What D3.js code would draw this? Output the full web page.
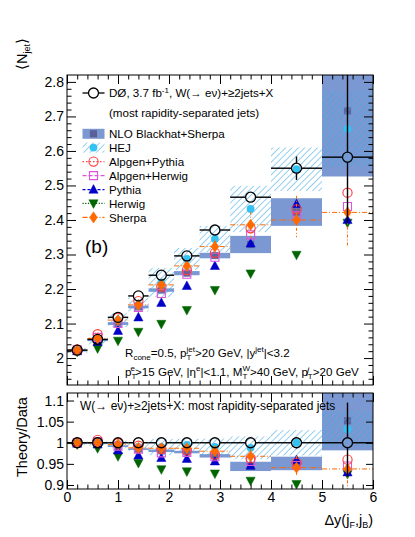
<!DOCTYPE html>
<html><head><meta charset="utf-8">
<script src="https://cdn.jsdelivr.net/npm/d3@7"></script>
<style>
body{margin:0;background:#fff}
text{font-family:"Liberation Sans",Arial,Helvetica,sans-serif;fill:#000}
</style></head>
<body><svg id="c" width="415" height="537"></svg>
<script>
// ---------------- DATA ----------------
const binLo      = [0, 0.4, 0.8, 1.2, 1.6, 2.1, 2.6, 3.2, 4.0, 5.0];
const binHi      = [0.4, 0.8, 1.2, 1.6, 2.1, 2.6, 3.2, 4.0, 5.0, 6.0];
const binCenters = [0.2, 0.6, 1.0, 1.4, 1.85, 2.35, 2.9, 3.6, 4.5, 5.5];

// main panel <N_jet>
const dataVal   = [2.023, 2.054, 2.118, 2.180, 2.240, 2.296, 2.371, 2.466, 2.550, 2.582];
const dataErrUp = [0.006, 0.006, 0.007, 0.008, 0.009, 0.010, 0.011, 0.013, 0.034, 0.250];
const dataErrDn = [0.006, 0.006, 0.007, 0.008, 0.009, 0.010, 0.011, 0.013, 0.034, 0.190];
const nloVal    = [2.022, 2.052, 2.100, 2.148, 2.197, 2.246, 2.297, 2.329, 2.423, 2.716];
const nloErr    = [0.003, 0.003, 0.004, 0.004, 0.005, 0.006, 0.008, 0.025, 0.040, 0.190];
const hejVal    = [2.022, 2.050, 2.110, 2.155, 2.219, 2.287, 2.345, 2.432, 2.547, 2.664];
const hejErr    = [0.008, 0.010, 0.020, 0.020, 0.042, 0.032, 0.038, 0.067, 0.063, 0.110];
const alpPyVal  = [2.025, 2.069, 2.117, 2.165, 2.207, 2.255, 2.305, 2.376, 2.431, 2.479];
const alpHwVal  = [2.024, 2.060, 2.100, 2.147, 2.187, 2.243, 2.292, 2.357, 2.412, 2.439];
const pythiaVal = [2.020, 2.047, 2.079, 2.118, 2.160, 2.209, 2.267, 2.332, 2.446, 2.400];
const herwigVal = [2.018, 2.028, 2.050, 2.076, 2.099, 2.139, 2.197, 2.245, 2.299, 2.392];
const sherpaVal = [2.023, 2.057, 2.110, 2.154, 2.212, 2.267, 2.323, 2.386, 2.400, 2.422];
const sherpaErrUp = [0.004, 0.005, 0.006, 0.010, 0.012, 0.015, 0.020, 0.038, 0.070, 0.075];
const sherpaErrDn = [0.004, 0.005, 0.006, 0.010, 0.012, 0.015, 0.020, 0.039, 0.050, 0.100];

// ratio panel Theory/Data
const rDataErrUp = [0.003, 0.003, 0.003, 0.004, 0.004, 0.004, 0.005, 0.005, 0.013, 0.095];
const rDataErrDn = [0.003, 0.003, 0.003, 0.004, 0.004, 0.004, 0.005, 0.005, 0.013, 0.080];
const rNlo     = [0.999, 0.999, 0.992, 0.985, 0.981, 0.978, 0.969, 0.944, 0.951, 1.052];
const rNloErr  = [0.002, 0.002, 0.002, 0.002, 0.003, 0.003, 0.004, 0.011, 0.016, 0.070];
const rHej     = [0.999, 0.998, 0.996, 0.990, 0.990, 0.995, 0.990, 0.988, 1.000, 1.032];
const rHejErr  = [0.004, 0.005, 0.009, 0.009, 0.019, 0.014, 0.020, 0.027, 0.030, 0.043];
const rAlpPy   = [1.001, 1.007, 0.999, 0.993, 0.985, 0.982, 0.972, 0.963, 0.953, 0.960];
const rAlpHw   = [1.000, 1.003, 0.992, 0.985, 0.976, 0.977, 0.967, 0.956, 0.946, 0.945];
const rPythia  = [0.998, 0.996, 0.982, 0.970, 0.964, 0.962, 0.956, 0.946, 0.959, 0.930];
const rHerwig  = [0.996, 0.987, 0.968, 0.952, 0.937, 0.932, 0.927, 0.910, 0.902, 0.926];
const rSherpa  = [1.000, 1.000, 0.996, 0.988, 0.987, 0.987, 0.980, 0.968, 0.941, 0.938];
const rSherpaErrUp = [0.002, 0.002, 0.003, 0.004, 0.005, 0.007, 0.008, 0.018, 0.028, 0.030];
const rSherpaErrDn = [0.002, 0.002, 0.003, 0.004, 0.005, 0.007, 0.008, 0.018, 0.020, 0.050];

// tick labels
const xTicks      = [0, 1, 2, 3, 4, 5, 6];
const mainYTicks  = [2.0, 2.1, 2.2, 2.3, 2.4, 2.5, 2.6, 2.7, 2.8];
const ratioYTicks = [0.9, 0.95, 1.0, 1.05, 1.1];

// ---------------- LAYOUT ----------------
const svg = d3.select("#c");
const X0 = 67, X1 = 373;
const M = {top: 75, bottom: 385};
const R = {top: 393, bottom: 489};
const x = d3.scaleLinear().domain([0, 6]).range([X0, X1]);
const yM = d3.scaleLinear().domain([1.922, 2.82]).range([M.bottom, M.top]);
const yR = d3.scaleLinear().domain([0.8905, 1.1178]).range([R.bottom, R.top]);

const C = {
  nloBand: "#7b98d2", nloMark: "#5b5e97", hej: "#3fa9e0", hejMark: "#33c3f3",
  ap: "#ff3b3b", ah: "#dd55dd", py: "#0000c8", hw: "#006400", sh: "#ff6a00"
};

const defs = svg.append("defs");
const pat = defs.append("pattern").attr("id","hatch").attr("patternUnits","userSpaceOnUse")
  .attr("width",4.5).attr("height",4.5).attr("patternTransform","rotate(45)");
pat.append("line").attr("x1",0).attr("y1",0).attr("x2",0).attr("y2",4.5)
  .attr("stroke",C.hej).attr("stroke-width",1.1);
defs.append("clipPath").attr("id","clipM").append("rect")
  .attr("x",X0).attr("y",M.top).attr("width",X1-X0).attr("height",M.bottom-M.top);
defs.append("clipPath").attr("id","clipR").append("rect")
  .attr("x",X0).attr("y",R.top).attr("width",X1-X0).attr("height",R.bottom-R.top);

// marker shapes
const shapes = {
  tri:  "M0,-5 L4.6,3.6 L-4.6,3.6 Z",
  tdn:  "M0,5 L4.6,-3.6 L-4.6,-3.6 Z",
  dia:  "M0,-5.6 L3.9,0 L0,5.6 L-3.9,0 Z",
  sq:   "M-4,-4 L4,-4 L4,4 L-4,4 Z",
  nsq:  "M-3.6,-3.6 L3.6,-3.6 L3.6,3.6 L-3.6,3.6 Z"
};
function marker(g, type, cx, cy, color, open) {
  if (type === "circ") {
    return g.append("circle").attr("cx",cx).attr("cy",cy).attr("r",open?4.6:3.9)
      .attr("fill",open?"none":color).attr("stroke",color).attr("stroke-width",open?1.1:0.5);
  }
  return g.append("path").attr("d",shapes[type]).attr("transform",`translate(${cx},${cy})`)
    .attr("fill",open?"none":color).attr("stroke",color).attr("stroke-width",open?1.1:0.5);
}

function drawPanel(g, y, vals) {
  const {data, dUp, dDn, nlo, nloE, hej, hejE, ap, ah, py, hw, sh, shUp, shDn} = vals;
  g.selectAll(".nlo").data(nlo).enter().append("rect")
    .attr("x",(d,i)=>x(binLo[i])).attr("width",(d,i)=>x(binHi[i])-x(binLo[i]))
    .attr("y",(d,i)=>y(d+nloE[i])).attr("height",(d,i)=>Math.max(1.5,y(d-nloE[i])-y(d+nloE[i])))
    .attr("fill",C.nloBand);
  nlo.forEach((d,i)=>marker(g,"nsq",x(binCenters[i]),y(d),C.nloMark,false).attr("stroke","none").attr("opacity",0.9));
  g.selectAll(".hej").data(hej).enter().append("rect")
    .attr("x",(d,i)=>x(binLo[i])).attr("width",(d,i)=>x(binHi[i])-x(binLo[i]))
    .attr("y",(d,i)=>y(d+hejE[i])).attr("height",(d,i)=>y(d-hejE[i])-y(d+hejE[i]))
    .attr("fill","url(#hatch)");
  hej.forEach((d,i)=>marker(g,"circ",x(binCenters[i]),y(d),C.hejMark,false).attr("stroke","none"));
  hw.forEach((d,i)=>marker(g,"tdn",x(binCenters[i]),y(d),C.hw,false));
  py.forEach((d,i)=>marker(g,"tri",x(binCenters[i]),y(d),C.py,false));
  ah.forEach((d,i)=>marker(g,"sq",x(binCenters[i]),y(d),C.ah,true));
  ap.forEach((d,i)=>marker(g,"circ",x(binCenters[i]),y(d),C.ap,true));
  sh.forEach((d,i)=>{
    g.append("line").attr("x1",x(binLo[i])).attr("x2",x(binHi[i])).attr("y1",y(d)).attr("y2",y(d))
      .attr("stroke",C.sh).attr("stroke-width",1).attr("stroke-dasharray","5,2,1,2");
    g.append("line").attr("x1",x(binCenters[i])).attr("x2",x(binCenters[i]))
      .attr("y1",y(d+shUp[i])).attr("y2",y(d-shDn[i]))
      .attr("stroke",C.sh).attr("stroke-width",1).attr("stroke-dasharray","3,2,1,2");
    marker(g,"dia",x(binCenters[i]),y(d),C.sh,false);
  });
  const r = 5;
  data.forEach((d,i)=>{
    const cx = x(binCenters[i]), cy = y(d);
    const segs = [
      [x(binLo[i]), cy, cx-r, cy], [cx+r, cy, x(binHi[i]), cy],
      [cx, y(d+dUp[i]), cx, cy-r], [cx, cy+r, cx, y(d-dDn[i])]
    ];
    segs.forEach(s=>{
      if ((s[0]===s[2] && s[1]<s[3]) || (s[1]===s[3] && s[0]<s[2]))
        g.append("line").attr("x1",s[0]).attr("y1",s[1]).attr("x2",s[2]).attr("y2",s[3])
          .attr("stroke","#000").attr("stroke-width",1.4);
    });
    g.append("circle").attr("cx",cx).attr("cy",cy).attr("r",r)
      .attr("fill","none").attr("stroke","#000").attr("stroke-width",1.3);
  });
}

const gM = svg.append("g").attr("clip-path","url(#clipM)");
drawPanel(gM, yM, {data:dataVal, dUp:dataErrUp, dDn:dataErrDn, nlo:nloVal, nloE:nloErr,
  hej:hejVal, hejE:hejErr, ap:alpPyVal, ah:alpHwVal, py:pythiaVal, hw:herwigVal,
  sh:sherpaVal, shUp:sherpaErrUp, shDn:sherpaErrDn});

const gR = svg.append("g").attr("clip-path","url(#clipR)");
const ones = dataVal.map(()=>1.0);
drawPanel(gR, yR, {data:ones, dUp:rDataErrUp, dDn:rDataErrDn, nlo:rNlo, nloE:rNloErr,
  hej:rHej, hejE:rHejErr, ap:rAlpPy, ah:rAlpHw, py:rPythia, hw:rHerwig,
  sh:rSherpa, shUp:rSherpaErrUp, shDn:rSherpaErrDn});

// ---------------- AXES ----------------
function fmt(d){ return String(+d.toFixed(2)); }
const xMinor = d3.range(0.2, 6, 0.2).filter(v=>Math.abs(v-Math.round(v))>0.01);
function frame(top, bottom, y, yMaj, yMin, showX, majY, minY) {
  const g = svg.append("g");
  const ax = (a, tr) => g.append("g").attr("transform",tr).call(a).call(s=>s.select(".domain").remove())
    .call(s=>s.selectAll("line").attr("stroke","#000"))
    .call(s=>s.selectAll("text").style("font-size","14px").style("font-family","Liberation Sans, Arial, sans-serif"));
  ax(d3.axisBottom(x).tickValues(xTicks).tickSize(-9).tickPadding(3).tickFormat(showX?fmt:()=>""), `translate(0,${bottom})`);
  ax(d3.axisBottom(x).tickValues(xMinor).tickSize(-4.5).tickFormat(()=>""), `translate(0,${bottom})`);
  ax(d3.axisTop(x).tickValues(xTicks).tickSize(-9).tickFormat(()=>""), `translate(0,${top})`);
  ax(d3.axisTop(x).tickValues(xMinor).tickSize(-4.5).tickFormat(()=>""), `translate(0,${top})`);
  ax(d3.axisLeft(y).tickValues(yMaj).tickSize(-majY).tickPadding(3).tickFormat(fmt), `translate(${X0},0)`);
  ax(d3.axisRight(y).tickValues(yMaj).tickSize(-majY).tickFormat(()=>""), `translate(${X1},0)`);
  if (yMin.length) {
    ax(d3.axisLeft(y).tickValues(yMin).tickSize(-minY).tickFormat(()=>""), `translate(${X0},0)`);
    ax(d3.axisRight(y).tickValues(yMin).tickSize(-minY).tickFormat(()=>""), `translate(${X1},0)`);
  }
  g.append("rect").attr("x",X0).attr("y",top).attr("width",X1-X0).attr("height",bottom-top)
    .attr("fill","none").attr("stroke","#000").attr("stroke-width",1);
  return g;
}
const mainMinor = d3.range(1.94, 2.82, 0.02).filter(v=>Math.abs(v*10-Math.round(v*10))>0.01);
frame(M.top, M.bottom, yM, mainYTicks, mainMinor, false, 9, 4.5);
frame(R.top, R.bottom, yR, ratioYTicks, [], true, 7, 0);

// ---------------- TEXT ----------------
const T = (xx, yy, size) => svg.append("text").attr("x",xx).attr("y",yy).style("font-size",size+"px");

// legend
const LX0 = 82.5, LX1 = 104.5, LTX = 109;
const ly = [93, 112.7, 133.8, 147.6, 161.6, 175.6, 189.6, 203.4, 217.4];
svg.append("line").attr("x1",LX0).attr("x2",LX1).attr("y1",ly[0]).attr("y2",ly[0]).attr("stroke","#000").attr("stroke-width",1.3);
svg.append("circle").attr("cx",(LX0+LX1)/2).attr("cy",ly[0]).attr("r",5).attr("fill","#fff").attr("stroke","#000").attr("stroke-width",1.3);
let t = T(LTX, ly[0]+4.2, 11.6); t.append("tspan").text("DØ, 3.7 fb");
t.append("tspan").attr("dy",-4.5).style("font-size","8px").text("-1");
t.append("tspan").attr("dy",4.5).text(", W(→ eν)+≥2jets+X");
T(LTX, ly[1]+4.2, 11.6).text("(most rapidity-separated jets)");
svg.append("rect").attr("x",LX0).attr("y",ly[2]-5).attr("width",LX1-LX0).attr("height",10).attr("fill",C.nloBand);
marker(svg,"nsq",(LX0+LX1)/2,ly[2],C.nloMark,false).attr("stroke","none");
T(LTX, ly[2]+4.2, 11.6).text("NLO Blackhat+Sherpa");
svg.append("rect").attr("x",LX0).attr("y",ly[3]-5).attr("width",LX1-LX0).attr("height",10).attr("fill","url(#hatch)");
marker(svg,"circ",(LX0+LX1)/2,ly[3],C.hejMark,false).attr("stroke","none");
T(LTX, ly[3]+4.2, 11.6).text("HEJ");
const legLines = [
  {y:ly[4], c:C.ap, dash:"1.5,2", m:"circ", open:true, label:"Alpgen+Pythia"},
  {y:ly[5], c:C.ah, dash:"4,2", m:"sq", open:true, label:"Alpgen+Herwig"},
  {y:ly[6], c:C.py, dash:"3,2", m:"tri", open:false, label:"Pythia"},
  {y:ly[7], c:C.hw, dash:"1.2,1.5", m:"tdn", open:false, label:"Herwig"},
  {y:ly[8], c:C.sh, dash:"5,2,1,2", m:"dia", open:false, label:"Sherpa"}
];
legLines.forEach(e=>{
  svg.append("line").attr("x1",LX0).attr("x2",LX1).attr("y1",e.y).attr("y2",e.y)
    .attr("stroke",e.c).attr("stroke-width",1.2).attr("stroke-dasharray",e.dash);
  marker(svg,e.m,(LX0+LX1)/2,e.y,e.c,e.open);
  T(LTX, e.y+4.2, 11.6).text(e.label);
});

T(85, 253, 19).text("(b)");

// cuts text
t = T(125, 357, 11.6);
t.append("tspan").text("R");
t.append("tspan").attr("dy",2.5).style("font-size","8px").text("cone");
t.append("tspan").attr("dy",-2.5).text("=0.5, p");
t.append("tspan").attr("dy",3).style("font-size","8px").text("T");
t.append("tspan").attr("dx",-4.9).attr("dy",-8.5).style("font-size","8px").text("jet");
t.append("tspan").attr("dy",5.5).text(">20 GeV, |y");
t.append("tspan").attr("dy",-5).style("font-size","8px").text("jet");
t.append("tspan").attr("dy",5).text("|<3.2");

t = T(125, 376, 11.6);
t.append("tspan").text("p");
t.append("tspan").attr("dy",3).style("font-size","8px").text("T");
t.append("tspan").attr("dx",-4.9).attr("dy",-8.5).style("font-size","8px").text("e");
t.append("tspan").attr("dy",5.5).text(">15 GeV, |η");
t.append("tspan").attr("dy",-5).style("font-size","8px").text("e");
t.append("tspan").attr("dy",5).text("|<1.1, M");
t.append("tspan").attr("dy",3).style("font-size","8px").text("T");
t.append("tspan").attr("dx",-4.9).attr("dy",-8.5).style("font-size","8px").text("W");
t.append("tspan").attr("dy",5.5).text(">40 GeV, p\u0338");
t.append("tspan").attr("dy",3).style("font-size","8px").text("T");
t.append("tspan").attr("dy",-3).text(">20 GeV");

T(80, 410, 12).text("W(→ eν)+≥2jets+X: most rapidity-separated jets");

// axis titles
t = svg.append("text").attr("transform","translate(27,38) rotate(-90)").attr("text-anchor","end").style("font-size","14.5px");
t.append("tspan").text("⟨N");
t.append("tspan").attr("dy",3).style("font-size","9px").text("jet");
t.append("tspan").attr("dy",-3).text("⟩");
svg.append("text").attr("transform","translate(27,477) rotate(-90)").style("font-size","14.5px").text("Theory/Data");
t = svg.append("text").attr("x",373).attr("y",525).attr("text-anchor","end").style("font-size","14.5px");
t.append("tspan").text("Δy(j");
t.append("tspan").attr("dy",3).style("font-size","9px").text("F");
t.append("tspan").attr("dy",-3).text(",j");
t.append("tspan").attr("dy",3).style("font-size","9px").text("B");
t.append("tspan").attr("dy",-3).text(")");
</script></body></html>
